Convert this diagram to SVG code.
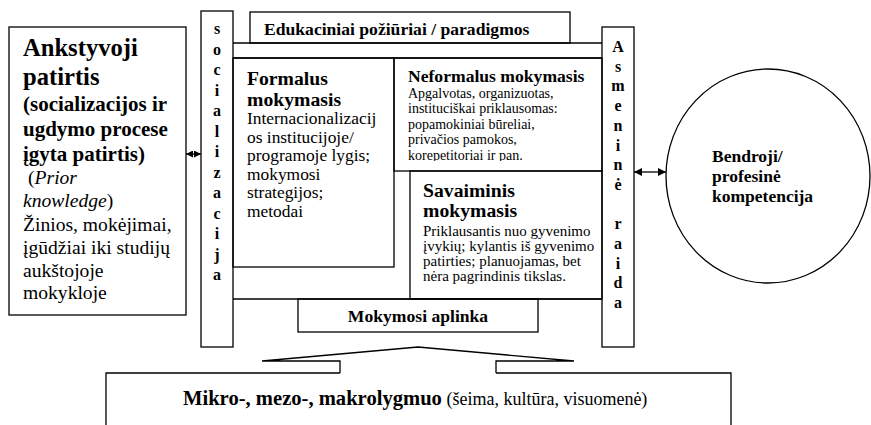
<svg xmlns="http://www.w3.org/2000/svg" width="871" height="425" viewBox="0 0 871 425">
<style>
.s{fill:none;stroke:#000;stroke-width:1.3}
text{font-family:"Liberation Serif","Times New Roman",serif;fill:#000}
.b{font-weight:bold}
.i{font-style:italic}
.v{font-weight:bold;font-size:16px;text-anchor:middle}
.lb{font-size:19.6px}
.fb{font-size:17.4px}
</style>
<defs>
<marker id="ah" viewBox="0 0 10 10" refX="10" refY="5" markerWidth="8" markerHeight="8" markerUnits="userSpaceOnUse" orient="auto-start-reverse">
<path d="M0,0 L10,5 L0,10 Z" fill="#000"/>
</marker>
<marker id="ahs" viewBox="0 0 10 10" refX="10" refY="5" markerWidth="7" markerHeight="7" markerUnits="userSpaceOnUse" orient="auto-start-reverse">
<path d="M0,0 L10,5 L0,10 Z" fill="#000"/>
</marker>
<clipPath id="nfclip"><rect x="394" y="58" width="208" height="103"/></clipPath>
</defs>
<rect width="871" height="425" fill="#fff"/>

<g id="prior">
<rect class="s" x="9" y="27" width="177" height="288" fill="#fff"/>
<text class="b" font-size="24.6" x="23" y="56">Ankstyvoji</text>
<text class="b" font-size="24.6" x="23" y="85">patirtis</text>
<text class="b" font-size="21" x="23" y="111">(socializacijos ir</text>
<text class="b" font-size="21" x="23" y="136">ugdymo procese</text>
<text class="b" font-size="21" x="23" y="161">įgyta patirtis)</text>
<text class="lb" x="28" y="184">(<tspan class="i">Prior</tspan></text>
<text class="lb" x="23" y="207"><tspan class="i">knowledge</tspan>)</text>
<text class="lb" x="23" y="231">Žinios, mokėjimai,</text>
<text class="lb" x="23" y="254">įgūdžiai iki studijų</text>
<text class="lb" x="23" y="277">aukštojoje</text>
<text class="lb" x="23" y="299">mokykloje</text>
</g>

<g id="socializacija">
<rect class="s" x="201" y="11" width="32" height="336"/>
<text class="v" x="217" y="34">s</text>
<text class="v" x="217" y="54.5">o</text>
<text class="v" x="217" y="75">c</text>
<text class="v" x="217" y="95.5">i</text>
<text class="v" x="217" y="116">a</text>
<text class="v" x="217" y="136.5">l</text>
<text class="v" x="217" y="157">i</text>
<text class="v" x="217" y="177.5">z</text>
<text class="v" x="217" y="198">a</text>
<text class="v" x="217" y="218.5">c</text>
<text class="v" x="217" y="239">i</text>
<text class="v" x="217" y="259.5">j</text>
<text class="v" x="217" y="280">a</text>
</g>

<g id="paradigmos">
<rect class="s" x="250" y="12" width="320" height="31"/>
<text class="b" font-size="17.6" x="264" y="35">Edukaciniai požiūriai / paradigmos</text>
</g>

<g id="frame">
<line class="s" x1="233" y1="43" x2="602" y2="43"/>
<line class="s" x1="233" y1="58" x2="602" y2="58"/>
<line class="s" x1="233" y1="299" x2="602" y2="299"/>
</g>

<g id="formalus">
<rect class="s" x="233" y="58" width="161" height="209"/>
<text class="b" font-size="19.7" x="247" y="85">Formalus</text>
<text class="b" font-size="19.7" x="247" y="106">mokymasis</text>
<text class="fb" x="247" y="124">Internacionalizacij</text>
<text class="fb" x="247" y="142.6">os institucijoje/</text>
<text class="fb" x="247" y="161.2">programoje lygis;</text>
<text class="fb" x="247" y="179.8">mokymosi</text>
<text class="fb" x="247" y="198.4">strategijos;</text>
<text class="fb" x="247" y="217">metodai</text>
</g>

<g id="neformalus">
<rect class="s" x="394" y="58" width="208" height="113"/>
<text class="b" font-size="17.6" x="408" y="82">Neformalus mokymasis</text>
<g clip-path="url(#nfclip)">
<text font-size="14" x="408" y="97.5">Apgalvotas, organizuotas,</text>
<text font-size="14" x="408" y="113">instituciškai priklausomas:</text>
<text font-size="14" x="408" y="128.5">popamokiniai būreliai,</text>
<text font-size="14" x="408" y="144">privačios pamokos,</text>
<text font-size="14" x="408" y="159.5">korepetitoriai ir pan.</text>
</g>
</g>

<g id="savaiminis">
<rect class="s" x="410" y="171" width="192" height="128"/>
<text class="b" font-size="19.7" x="423" y="197">Savaiminis</text>
<text class="b" font-size="19.7" x="423" y="217">mokymasis</text>
<text font-size="15" x="423" y="236">Priklausantis nuo gyvenimo</text>
<text font-size="15" x="423" y="251">įvykių; kylantis iš gyvenimo</text>
<text font-size="15" x="423" y="266">patirties; planuojamas, bet</text>
<text font-size="15" x="423" y="281">nėra pagrindinis tikslas.</text>
</g>

<g id="aplinka">
<rect class="s" x="298" y="299" width="240" height="33"/>
<text class="b" font-size="17.6" x="418" y="322" text-anchor="middle">Mokymosi aplinka</text>
</g>

<g id="asmenine">
<rect class="s" x="602" y="27" width="32" height="320"/>
<text class="v" x="618" y="52">A</text>
<text class="v" x="618" y="71.7">s</text>
<text class="v" x="618" y="91.4">m</text>
<text class="v" x="618" y="111.1">e</text>
<text class="v" x="618" y="130.8">n</text>
<text class="v" x="618" y="150.5">i</text>
<text class="v" x="618" y="170.2">n</text>
<text class="v" x="618" y="189.9">ė</text>
<text class="v" x="618" y="229.3">r</text>
<text class="v" x="618" y="249">a</text>
<text class="v" x="618" y="268.7">i</text>
<text class="v" x="618" y="288.4">d</text>
<text class="v" x="618" y="308">a</text>
</g>

<g id="kompetencija">
<ellipse class="s" cx="768" cy="176" rx="102" ry="107"/>
<text class="b" font-size="17.5" x="712" y="162">Bendroji/</text>
<text class="b" font-size="17.5" x="712" y="182">profesinė</text>
<text class="b" font-size="17.5" x="712" y="202">kompetencija</text>
</g>

<g id="lygmuo">
<polyline class="s" points="340,373 340,361 262,361 418,347 574,361 496,361 496,373"/>
<path class="s" d="M106,430 L106,373 L340,373 M496,373 L731,373 L731,430"/>
<text x="183" y="405"><tspan class="b" font-size="20.6">Mikro-, mezo-, makrolygmuo</tspan><tspan font-size="18"> (šeima, kultūra, visuomenė)</tspan></text>
</g>

<g id="connectors">
<line class="s" x1="186" y1="154" x2="201" y2="154" marker-start="url(#ahs)" marker-end="url(#ahs)"/>
<line class="s" x1="634" y1="172" x2="666" y2="172" marker-start="url(#ah)" marker-end="url(#ah)"/>
</g>
</svg>
